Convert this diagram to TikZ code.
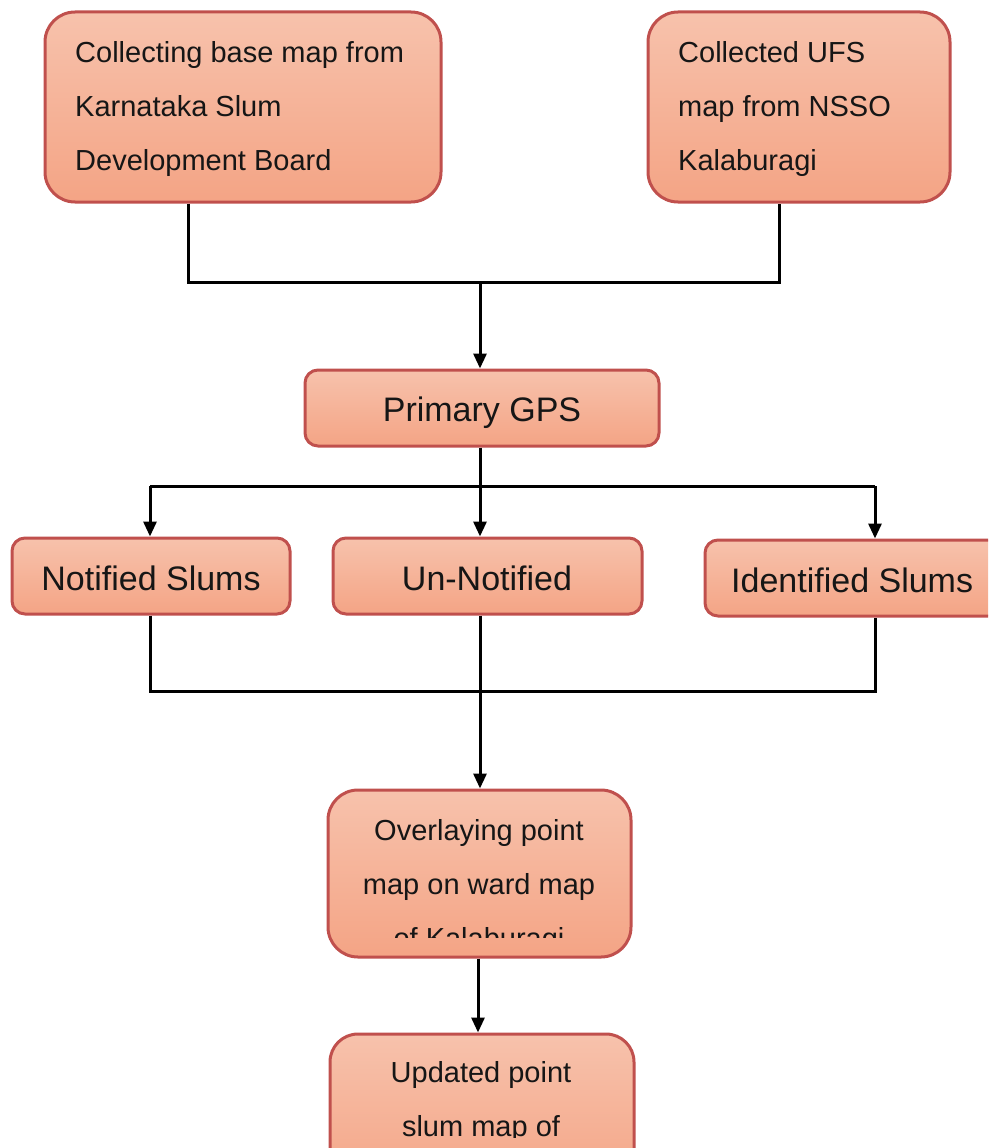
\documentclass[tikz,border=0pt]{standalone}
\usepackage{fontspec}
\setmainfont{Liberation Sans}
\usetikzlibrary{arrows.meta}
\definecolor{boxline}{RGB}{192,80,77}
\definecolor{boxtop}{RGB}{247,194,172}
\definecolor{boxbot}{RGB}{244,164,133}
\definecolor{ink}{RGB}{22,22,22}
\tikzset{
  box/.style={draw=boxline, line width=3pt, top color=boxtop, bottom color=boxbot,
    rounded corners=#1, inner sep=0pt},
  box/.default=13pt,
  conn/.style={line width=3pt, draw=black},
  arr/.style={conn, -{Triangle[length=15pt,width=13pt]}},
  smalltxt/.style={font=\fontsize{29}{35}\selectfont, text=ink, inner sep=0pt},
  bigtxt/.style={font=\fontsize{34}{41}\selectfont, text=ink, inner sep=0pt}
}
\begin{document}
\begin{tikzpicture}[x=1pt,y=-1pt]
\useasboundingbox (0,0) rectangle (988,1148);
\clip (0,0) rectangle (988,1148);
% boxes
\node[box=30pt, minimum width=396pt, minimum height=190pt] (b1) at (243,107) {};
\node[box=30pt, minimum width=302pt, minimum height=190pt] (b2) at (799,107) {};
\node[box, minimum width=354pt, minimum height=76pt] (gps) at (482,408) {};
\node[box, minimum width=278pt, minimum height=76pt] (ns) at (151,576) {};
\node[box, minimum width=309pt, minimum height=76pt] (un) at (487.5,576) {};
\node[box, minimum width=310pt, minimum height=76pt] (is) at (860,578) {};
\node[box=30pt, minimum width=303pt, minimum height=167pt] (ov) at (479.5,873.5) {};
\node[box=28pt, minimum width=304pt, minimum height=160pt] (up) at (482,1114) {};
% texts
\node[smalltxt, anchor=base west] (t1a) at (75,63) {Collecting base map from};
\node[smalltxt, anchor=base west] (t1b) at (75,116) {Karnataka Slum};
\node[smalltxt, anchor=base west] (t1c) at (75,170) {Development Board};
\node[smalltxt, anchor=base west] (t2a) at (678,63) {Collected UFS};
\node[smalltxt, anchor=base west] (t2b) at (678,116) {map from NSSO};
\node[smalltxt, anchor=base west] (t2c) at (678,170) {Kalaburagi};
\node[bigtxt, anchor=base] (tg) at (482,421) {Primary GPS};
\node[bigtxt, anchor=base] (tn) at (151,590) {Notified Slums};
\node[bigtxt, anchor=base] (tu) at (487,590) {Un-Notified};
\node[bigtxt, anchor=base west] (ti) at (731,592) {Identified Slums};
\begin{scope}
\clip (330,795) rectangle (630,937);
\node[smalltxt, anchor=base] (toa) at (479,840) {Overlaying point};
\node[smalltxt, anchor=base] (tob) at (479,894) {map on ward map};
\node[smalltxt, anchor=base] (toc) at (479,948) {of Kalaburagi};
\end{scope}
\begin{scope}
\clip (332,1040) rectangle (632,1137);
\node[smalltxt, anchor=base] (tpa) at (481,1082) {Updated point};
\node[smalltxt, anchor=base] (tpb) at (481,1136) {slum map of};
\end{scope}
% connectors
\coordinate (jl) at (188,282);
\coordinate (jr) at (779,282);
\coordinate (jm) at (480,282);
\draw[conn] (b1.south -| jl) -- (jl) -- (jr) -- (b2.south -| jr);
\draw[arr] (jm) -- (gps.north -| jm);
\coordinate (k1) at (150,486);
\coordinate (k2) at (480,486);
\coordinate (k3) at (875,486);
\draw[conn] (k1) -- (k3);
\draw[conn] (gps.south -| k2) -- (k2);
\draw[arr] (k1) -- (ns.north -| k1);
\draw[arr] (k2) -- (un.north -| k2);
\draw[arr] (k3) -- (is.north -| k3);
\coordinate (m1) at (150,691);
\coordinate (m2) at (480,691);
\coordinate (m3) at (875,691);
\draw[conn] (ns.south -| m1) -- (m1) -- (m3) -- (is.south -| m3);
\draw[arr] (un.south -| m2) -- (ov.north -| m2);
\coordinate (n1) at (478,957);
\draw[arr] (ov.south -| n1) -- (up.north -| n1);
\end{tikzpicture}
\end{document}
